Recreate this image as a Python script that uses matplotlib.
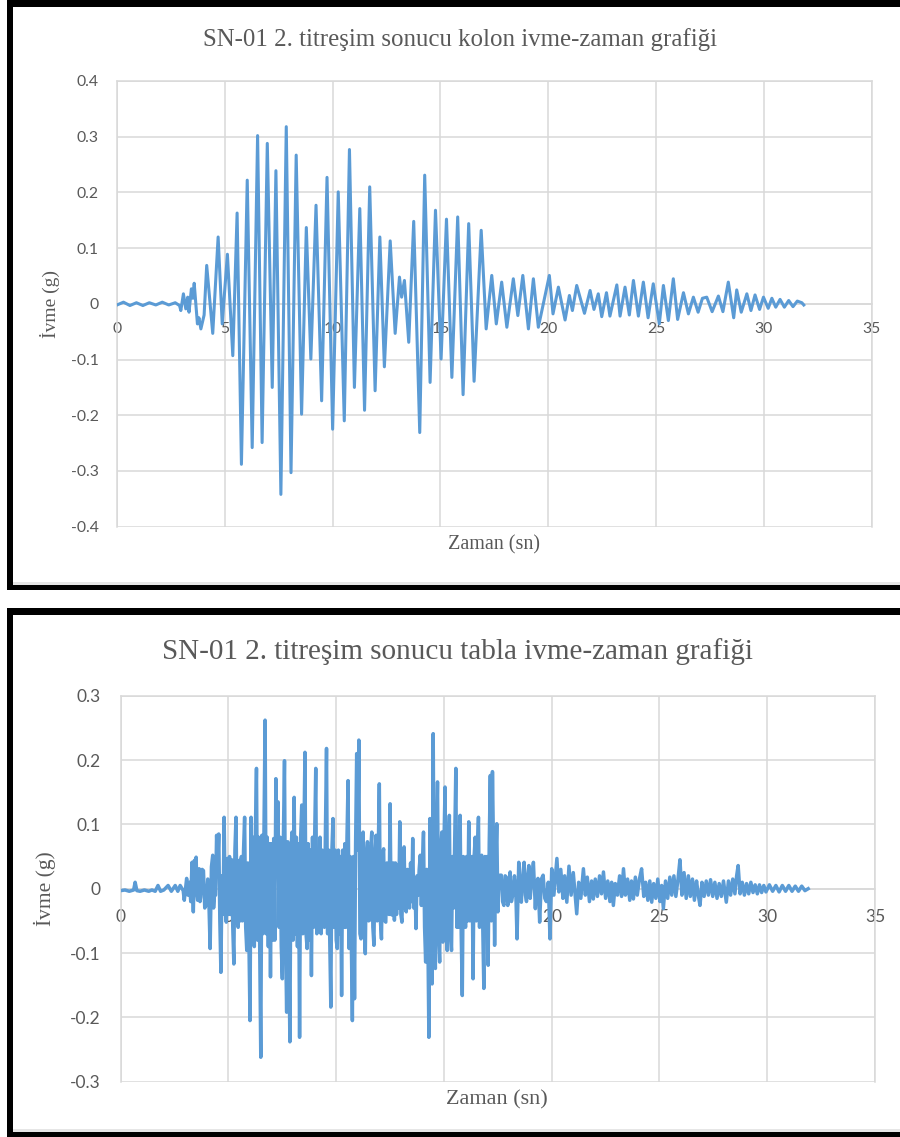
import matplotlib
matplotlib.use("Agg")
import matplotlib.pyplot as plt
import numpy as np
from matplotlib.patches import Rectangle

# --- kolon verisi (grafikten okunan tepe / çukur noktaları) ---
kolon_t = [0.0, 0.3, 0.6, 0.9, 1.2, 1.5, 1.8, 2.1, 2.4, 2.7, 2.9,
           2.96, 3.08, 3.19, 3.28, 3.34, 3.45, 3.52, 3.58, 3.73, 3.80, 3.89, 4.04,
           4.16, 4.44, 4.69, 4.88, 5.12, 5.37, 5.57, 5.77, 6.04, 6.27, 6.52, 6.73,
           6.97, 7.20, 7.37, 7.60, 7.85, 8.07, 8.31, 8.56, 8.78, 8.99, 9.23, 9.49,
           9.74, 10.0, 10.26, 10.54, 10.78, 11.01, 11.26, 11.48, 11.72, 11.97, 12.19,
           12.40, 12.67, 12.90, 13.10, 13.20, 13.33, 13.53, 13.76, 14.04, 14.27,
           14.52, 14.77, 15.03, 15.28, 15.53, 15.80, 16.05, 16.31, 16.56, 16.89,
           17.12, 17.38, 17.59, 17.84, 18.08, 18.38, 18.59, 18.82, 19.08, 19.31,
           19.54, 20.05, 20.22, 20.47, 20.78, 20.98, 21.12, 21.32, 21.68, 21.94,
           22.12, 22.32, 22.48, 22.70, 22.86, 23.18, 23.33, 23.56, 23.76, 23.95,
           24.18, 24.41, 24.63, 24.87, 25.15, 25.34, 25.57, 25.80, 26.00, 26.27,
           26.50, 26.73, 26.95, 27.15, 27.35, 27.60, 27.89, 28.10, 28.35, 28.60,
           28.74, 28.95, 29.21, 29.40, 29.59, 29.80, 29.98, 30.20, 30.37, 30.55,
           30.75, 30.95, 31.15, 31.35, 31.55, 31.76, 31.85]
kolon_a = [-0.002, 0.003, -0.003, 0.002, -0.003, 0.002, -0.002, 0.003, -0.002, 0.002, -0.003,
           -0.012, 0.018, -0.009, 0.012, -0.015, 0.027, 0.010, 0.037, -0.036, -0.025, -0.045, -0.020,
           0.069, -0.053, 0.120, -0.036, 0.089, -0.093, 0.163, -0.288, 0.222, -0.258, 0.302, -0.249,
           0.288, -0.150, 0.239, -0.342, 0.318, -0.303, 0.267, -0.198, 0.137, -0.099, 0.177, -0.174,
           0.227, -0.225, 0.201, -0.210, 0.277, -0.150, 0.171, -0.191, 0.210, -0.156, 0.120,
           -0.113, 0.113, -0.053, 0.048, 0.012, 0.042, -0.069, 0.148, -0.231, 0.231,
           -0.141, 0.168, -0.099, 0.152, -0.132, 0.156, -0.163, 0.144, -0.139, 0.132,
           -0.045, 0.051, -0.036, 0.039, -0.042, 0.045, -0.021, 0.051, -0.045, 0.045,
           -0.042, 0.051, -0.018, 0.030, -0.029, 0.015, -0.012, 0.033, -0.017, 0.024,
           -0.010, 0.018, -0.023, 0.020, -0.022, 0.034, -0.022, 0.030, -0.020, 0.042,
           -0.022, 0.039, -0.025, 0.036, -0.036, 0.033, -0.030, 0.045, -0.028, 0.020,
           -0.018, 0.012, -0.015, 0.010, 0.012, -0.014, 0.014, -0.014, 0.039, -0.025,
           0.025, -0.015, 0.018, -0.012, 0.016, -0.010, 0.012, -0.008, 0.010, -0.006,
           0.008, -0.006, 0.006, -0.005, 0.005, 0.002, -0.002]

# --- tabla verisi ---
# başlangıç (0 - 4.35 s)
tabla_t_bas = [0.0, 0.2, 0.4, 0.6, 0.67, 0.75, 0.9, 1.1, 1.3, 1.45, 1.6, 1.73, 1.85, 2.0, 2.2,
               2.35, 2.53, 2.65, 2.76, 2.9,
               2.95, 3.06, 3.12, 3.19, 3.25, 3.31, 3.37, 3.42, 3.46, 3.50, 3.54, 3.57, 3.64,
               3.68, 3.71, 3.78, 3.84, 3.90, 3.96, 4.04, 4.10, 4.15, 4.21, 4.27, 4.31, 4.35]
tabla_a_bas = [-0.003, -0.002, -0.004, -0.002, 0.010, -0.003, -0.004, -0.002, -0.004, -0.002, -0.004, 0.005, -0.004, -0.002, 0.005,
               -0.004, 0.005, -0.004, 0.005, -0.003,
               -0.018, 0.016, -0.010, 0.010, -0.020, 0.041, -0.036, 0.044, 0.020, 0.049, -0.010, -0.018, 0.031,
               -0.020, -0.013, 0.030, 0.028, -0.030, -0.026, 0.015, -0.030, -0.093, 0.034, 0.052, -0.030, -0.010]

# yoğun bölüm: 4.40 s'den 17.60 s'ye, 0.05 s aralıklı okumalar
tabla_yogun_bas = 4.40
tabla_yogun_dt = 0.05
tabla_a_yogun = [
    -0.010, 0.083, 0.036, 0.085, -0.050, -0.130, 0.020, -0.040, 0.111, -0.030, -0.052, 0.047,
    -0.040, 0.050, -0.040, 0.045, -0.060, -0.117, 0.060, 0.111, -0.050, -0.060,
    0.044, -0.050, 0.050, -0.050, 0.060, 0.111, -0.060, -0.096, 0.040, -0.080,
    -0.205, 0.111, -0.070, 0.080, -0.090, 0.090, 0.187, -0.080, 0.080, -0.090,
    -0.262, 0.083, -0.070, 0.090, 0.262, -0.070, 0.080, -0.090, 0.070, -0.137,
    0.070, -0.080, 0.078, -0.080, 0.171, 0.060, 0.135, -0.060, 0.080, -0.090,
    -0.140, 0.080, 0.199, -0.080, -0.192, 0.073, -0.090, -0.238, 0.060, 0.088,
    -0.080, 0.142, -0.070, 0.080, -0.090, 0.070, -0.231, 0.080, 0.130, -0.070,
    0.080, 0.212, -0.070, -0.093, 0.070, -0.080, 0.060, -0.135, 0.080, -0.060,
    0.080, 0.187, -0.070, 0.060, -0.050, 0.080, -0.070, 0.060, 0.052, -0.060,
    0.090, 0.218, -0.070, 0.060, -0.080, -0.184, 0.060, 0.109, -0.060, 0.060,
    -0.080, -0.093, 0.060, -0.070, 0.050, -0.166, 0.060, -0.060, 0.070, -0.060,
    0.080, 0.168, -0.093, 0.050, -0.080, -0.205, 0.050, -0.171, 0.070, 0.210,
    0.060, 0.231, -0.070, -0.078, 0.060, 0.088, -0.060, -0.101, 0.050, 0.073,
    -0.050, -0.049, 0.060, 0.088, -0.060, -0.088, 0.050, 0.083, -0.050, 0.060,
    0.163, -0.050, -0.078, 0.050, 0.062, -0.050, -0.052, 0.040, 0.036, -0.040,
    0.132, -0.040, -0.041, 0.040, -0.049, 0.040, -0.040, 0.036, -0.030, 0.104,
    -0.040, -0.052, 0.040, 0.065, -0.030, -0.036, 0.030, 0.023, -0.030, 0.040,
    -0.020, 0.078, -0.030, 0.016, -0.062, 0.020, -0.010, 0.030, 0.052, -0.026,
    0.040, 0.088, -0.060, -0.114, 0.030, -0.062, -0.231, 0.109, -0.070, -0.148,
    0.241, -0.070, -0.124, 0.070, 0.166, -0.070, -0.114, 0.060, 0.088, -0.083,
    0.070, 0.158, -0.070, -0.096, 0.060, 0.114, -0.070, -0.096, 0.050, -0.030,
    0.080, 0.187, -0.060, 0.070, -0.060, 0.114, -0.070, -0.166, 0.050, 0.047,
    -0.060, 0.050, -0.050, 0.104, -0.050, -0.026, 0.050, -0.140, 0.050, 0.080,
    -0.050, 0.060, 0.111, -0.060, 0.050, 0.052, -0.060, -0.155, 0.050, -0.057,
    0.050, -0.119, 0.070, 0.176, -0.050, 0.182, 0.060, -0.088, 0.040, 0.101,
    -0.036, 0.020, 0.021]

# kuyruk (17.66 - 31.9 s)
tabla_t_son = [17.66, 17.72, 17.78, 17.84, 17.89, 17.96, 18.02, 18.07, 18.13, 18.19, 18.27, 18.33, 18.39,
               18.47, 18.53, 18.59, 18.65, 18.72, 18.78, 18.83, 18.89, 18.94, 19.0, 19.06, 19.15, 19.24, 19.30,
               19.36, 19.44, 19.52, 19.60, 19.68,
               19.75, 19.84, 19.92, 20.0, 20.1, 20.24, 20.33, 20.42, 20.52, 20.6, 20.7, 20.8, 20.9,
               21.0, 21.16, 21.25, 21.35, 21.47, 21.56, 21.65, 21.75, 21.85, 21.93, 22.02,
               22.12, 22.22, 22.31, 22.4, 22.5, 22.6, 22.7, 22.78, 22.86, 22.95, 23.05, 23.15,
               23.24, 23.33, 23.42, 23.52, 23.62, 23.7, 23.79, 23.88, 23.97, 24.07, 24.17,
               24.27, 24.36, 24.46, 24.55, 24.64, 24.73, 24.83, 24.92, 25.02, 25.1, 25.18,
               25.28, 25.38, 25.48, 25.57, 25.67, 25.76, 25.86, 25.95, 26.04, 26.14, 26.24,
               26.34, 26.43, 26.53, 26.62, 26.72, 26.8, 26.88, 26.97, 27.07, 27.17, 27.27,
               27.37, 27.47, 27.57, 27.67, 27.77, 27.87, 27.97, 28.1, 28.2, 28.3, 28.4, 28.5,
               28.58, 28.65, 28.74, 28.84, 28.94, 29.04, 29.14, 29.24, 29.34, 29.44, 29.54,
               29.64, 29.74, 29.84, 29.94, 30.1, 30.25, 30.4, 30.55, 30.7, 30.85, 31.0, 31.15,
               31.3, 31.45, 31.6, 31.75, 31.9]
tabla_a_son = [0.021, -0.020, -0.026, 0.020, 0.018, -0.026, 0.010, 0.026, -0.020, -0.010, 0.020, 0.000, -0.078,
               0.041, -0.010, -0.021, 0.020, 0.041, -0.010, -0.020, 0.020, 0.036, -0.015, 0.010, 0.041, -0.031, 0.010,
               0.016, -0.052, 0.015, 0.021, -0.015,
               -0.020, 0.010, -0.078, 0.031, -0.010, 0.047, -0.005, 0.030, -0.015, 0.020, -0.021, 0.035, -0.010,
               0.025, -0.039, 0.010, -0.015, 0.031, -0.010, 0.018, -0.020, 0.012, -0.016, 0.015,
               -0.012, 0.020, -0.008, 0.026, -0.015, 0.012, -0.020, 0.010, -0.026, 0.008, -0.010, 0.020,
               -0.012, 0.031, -0.010, 0.015, -0.018, 0.012, -0.016, 0.018, -0.010, 0.015, 0.031,
               -0.012, 0.010, -0.018, 0.012, -0.021, 0.008, -0.015, 0.015, -0.020, 0.005, -0.031,
               0.012, -0.015, 0.018, -0.010, 0.020, -0.012, 0.015, 0.045, -0.010, 0.025, -0.015,
               0.020, -0.012, 0.015, -0.018, 0.012, -0.010, -0.026, 0.010, -0.012, 0.012, -0.010,
               0.014, -0.012, 0.010, -0.015, 0.008, -0.012, 0.012, -0.021, 0.012, -0.010, 0.015, -0.008,
               0.020, 0.036, -0.008, 0.010, -0.010, 0.008, -0.008, 0.010, -0.006, 0.006, -0.008,
               0.006, -0.006, 0.005, -0.005, 0.006, -0.004, 0.005, -0.005, 0.005, -0.004, 0.005, -0.004,
               0.004, -0.004, 0.004, -0.003, 0.000]

x_ticks = [0, 5, 10, 15, 20, 25, 30, 35]
kolon_yticks = [-0.4, -0.3, -0.2, -0.1, 0, 0.1, 0.2, 0.3, 0.4]
tabla_yticks = [-0.3, -0.2, -0.1, 0, 0.1, 0.2, 0.3]

kolon_title = "SN-01 2. titreşim sonucu kolon ivme-zaman grafiği"
tabla_title = "SN-01 2. titreşim sonucu tabla ivme-zaman grafiği"
ylabel = "İvme (g)"
xlabel = "Zaman (sn)"

W, H = 900, 1137
BLUE = "#5b9bd5"
GRID = "#d9d9d9"
TXT = "#595959"
SERIF = "Liberation Serif"
SANS = "Lato"

# tabla serisini birleştir
tabla_t_yogun = tabla_yogun_bas + tabla_yogun_dt * np.arange(len(tabla_a_yogun))
tabla_t = np.concatenate([tabla_t_bas, tabla_t_yogun, tabla_t_son])
tabla_a = np.concatenate([tabla_a_bas, tabla_a_yogun, tabla_a_son])


def fx(px):
    return px / W


def fy(py):
    return 1 - py / H


def block(fig, x0, y0, x1, y1, color="black"):
    fig.add_artist(Rectangle((fx(x0), fy(y1)), (x1 - x0) / W, (y1 - y0) / H,
                             transform=fig.transFigure, color=color, lw=0))


def draw_panel(fig, rect, t, a, ylim, yticks, tick_fs, lw):
    ax = fig.add_axes(rect)
    ax.plot(t, a, color=BLUE, lw=lw, zorder=3)
    ax.set_xlim(0, 35)
    ax.set_ylim(*ylim)
    ax.set_xticks(x_ticks)
    ax.set_yticks(yticks)
    ax.set_xticklabels([str(v) for v in x_ticks])
    ax.set_yticklabels(["0" if v == 0 else f"{v:.1f}" for v in yticks])
    ax.grid(color=GRID, lw=1.1)
    ax.set_axisbelow(True)
    for side in ["top", "left", "right", "bottom"]:
        ax.spines[side].set_color(GRID)
        ax.spines[side].set_linewidth(1.1)
        ax.spines[side].set_zorder(1)
    ax.spines["bottom"].set_position(("data", 0))
    ax.tick_params(length=0, labelcolor=TXT, labelsize=tick_fs)
    ax.tick_params(axis="x", pad=tick_fs * 1.15)
    ax.tick_params(axis="y", pad=tick_fs * 1.15)
    for lab in ax.get_xticklabels() + ax.get_yticklabels():
        lab.set_fontfamily(SANS)
    return ax


fig = plt.figure(figsize=(W / 100, H / 100), dpi=100)
fig.patch.set_facecolor("white")

# çerçeveler
block(fig, 7, 0, 900, 7)
block(fig, 7, 0, 13, 590)
block(fig, 7, 585, 900, 590)
block(fig, 13, 582, 900, 585, color="#e6e6e6")
block(fig, 7, 608, 900, 615)
block(fig, 7, 608, 13, 1137)
block(fig, 7, 1132, 900, 1137)
block(fig, 13, 1129, 900, 1132, color="#e6e6e6")

# üst grafik: kolon
draw_panel(fig, [fx(117), fy(526.7), (871.7 - 117) / W, (526.7 - 81) / H],
           kolon_t, kolon_a, (-0.4, 0.4), kolon_yticks, 11.3, 2.2)
fig.text(fx(460), fy(40), kolon_title, family=SERIF, color=TXT, fontsize=17.9,
         ha="center", va="center")
fig.text(fx(50), fy(304), ylabel, family=SERIF, color=TXT, fontsize=14,
         rotation=90, ha="center", va="center")
fig.text(fx(494), fy(545), xlabel, family=SERIF, color=TXT, fontsize=14.5,
         ha="center", va="center")

# alt grafik: tabla
draw_panel(fig, [fx(120.7), fy(1081.7), (875 - 120.7) / W, (1081.7 - 695.7) / H],
           tabla_t, tabla_a, (-0.3, 0.3), tabla_yticks, 12.5, 2.5)
fig.text(fx(458), fy(652), tabla_title, family=SERIF, color=TXT, fontsize=21,
         ha="center", va="center")
fig.text(fx(45), fy(889), ylabel, family=SERIF, color=TXT, fontsize=15.5,
         rotation=90, ha="center", va="center")
fig.text(fx(497), fy(1100), xlabel, family=SERIF, color=TXT, fontsize=16,
         ha="center", va="center")

fig.savefig("out.png", dpi=100)
plt.close(fig)
